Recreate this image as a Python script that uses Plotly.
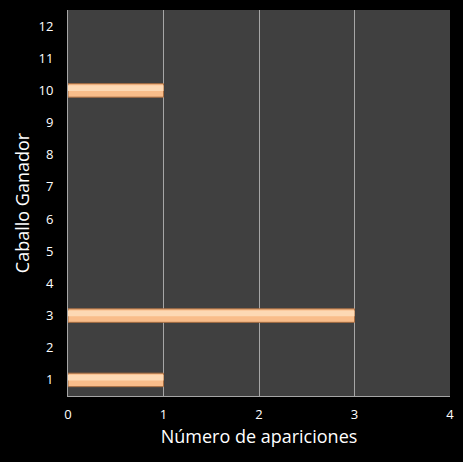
import plotly.graph_objects as go

caballos = [1, 2, 3, 4, 5, 6, 7, 8, 9, 10, 11, 12]
apariciones = [1, 0, 3, 0, 0, 0, 0, 0, 0, 1, 0, 0]
x_ticks = [0, 1, 2, 3, 4]

line_w = [1 if v > 0 else 0 for v in apariciones]

fig = go.Figure()
fig.add_trace(go.Bar(
    y=caballos, x=apariciones, orientation="h", width=0.42,
    marker=dict(color="#f9bd8a", line=dict(color="#a86e42", width=line_w)),
    hoverinfo="x+y",
))
# highlight (bevel) layer
fig.add_trace(go.Bar(
    y=caballos, x=apariciones, orientation="h", width=0.18, offset=-0.02,
    marker=dict(color="#fdd9b4", line=dict(width=0)),
    hoverinfo="skip",
))

fig.update_layout(
    width=463, height=462,
    paper_bgcolor="#000000", plot_bgcolor="#404040",
    margin=dict(l=68, r=13, t=10, b=66),
    barmode="overlay", showlegend=False,
    font=dict(family="Open Sans, Liberation Sans, sans-serif", color="#ffffff", size=13),
)
fig.update_xaxes(
    range=[0, 4], tickvals=x_ticks, showgrid=True, gridcolor="#a6a6a6", gridwidth=1,
    zeroline=False, showline=True, linecolor="#a6a6a6", linewidth=1,
    ticks="", tickfont=dict(size=13, color="#ffffff"), ticklabelstandoff=6,
    title=dict(text="Número de apariciones", font=dict(size=18, color="#ffffff"), standoff=8),
)
fig.update_yaxes(
    range=[0.5, 12.5], tickvals=caballos, showgrid=False, zeroline=False,
    showline=True, linecolor="#a6a6a6", linewidth=1, ticks="",
    tickfont=dict(size=13, color="#ffffff"), ticklabelstandoff=11,
    title=dict(text="Caballo Ganador", font=dict(size=18, color="#ffffff"), standoff=4),
)
fig.write_html("out.html")
